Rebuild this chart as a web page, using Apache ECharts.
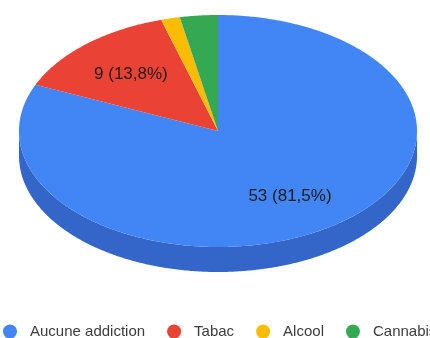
<!DOCTYPE html>
<html>
<head>
<meta charset="utf-8">
<script src="https://cdn.jsdelivr.net/npm/echarts@6/dist/echarts.min.js"></script>
<style>
  html, body { margin: 0; padding: 0; background: #ffffff; }
  #chart { width: 430px; height: 338px; }
</style>
</head>
<body>
<div id="chart"></div>
<script>
// Répartition des addictions déclarées
const categories = ['Aucune addiction', 'Tabac', 'Alcool', 'Cannabis'];
const counts = [53, 9, 1, 2];
const topColors = ['#4285F4', '#EA4335', '#FBBC04', '#34A853'];
const sideColors = ['#3466CA', '#B7332A', '#C99603', '#2A8643'];

// Ellipse geometry of the tilted pie
const CX = 218, CY = 131, RX = 199, RY = 116, DEPTH = 25;
const LABEL_R = 0.66;

const total = counts.reduce((a, b) => a + b, 0);
const starts = counts.map((_, i) => counts.slice(0, i).reduce((a, b) => a + b, 0));

function pt(a, dy, r) {
  r = r == null ? 1 : r;
  return [CX + RX * r * Math.sin(a), CY - RY * r * Math.cos(a) + dy];
}

function arc(a0, a1, dy) {
  const pts = [];
  const n = Math.max(2, Math.ceil((a1 - a0) / 0.01));
  for (let k = 0; k <= n; k++) pts.push(pt(a0 + (a1 - a0) * k / n, dy));
  return pts;
}

function fmt(v) {
  const pct = (v / total * 100).toFixed(1).replace('.', ',');
  return v + ' (' + pct + '%)';
}

function makeRender(idx) {
  return function (params, api) {
    const v = api.value(0), s = api.value(1), tot = api.value(2);
    const a0 = s / tot * Math.PI * 2;
    const a1 = (s + v) / tot * Math.PI * 2;
    const children = [];

    // front wall: only the part of the rim facing the viewer
    const f0 = Math.max(a0, Math.PI / 2), f1 = Math.min(a1, Math.PI * 1.5);
    if (f1 > f0) {
      const upper = arc(f0, f1, 0);
      const lower = arc(f0, f1, DEPTH).reverse();
      children.push({
        type: 'polygon',
        shape: { points: upper.concat(lower) },
        style: { fill: sideColors[idx] }
      });
    }

    // top face
    children.push({
      type: 'polygon',
      shape: { points: [[CX, CY]].concat(arc(a0, a1, 0)) },
      style: { fill: topColors[idx] }
    });

    if (v / tot >= 0.05) {
      const m = (a0 + a1) / 2;
      const p = pt(m, 0, LABEL_R);
      children.push({
        type: 'text',
        style: {
          text: fmt(v),
          x: p[0], y: p[1] + 1,
          align: 'center', verticalAlign: 'middle',
          fill: '#1e1e1e',
          font: '17px "Liberation Sans", Arial, sans-serif'
        }
      });
    }
    return { type: 'group', children: children };
  };
}

const chart = echarts.init(document.getElementById('chart'), null, { renderer: 'canvas' });

chart.setOption({
  animation: false,
  backgroundColor: '#ffffff',
  legend: {
    data: categories.map(n => ({ name: n, icon: 'circle' })),
    orient: 'horizontal',
    left: 3,
    top: 324,
    padding: 0,
    width: 800,
    itemWidth: 14,
    itemHeight: 14,
    itemGap: 22,
    selectedMode: false,
    textStyle: {
      fontFamily: '"Liberation Sans", Arial, sans-serif',
      fontSize: 15,
      color: '#3c3c3c',
      padding: [0, 0, 0, 8]
    }
  },
  series: categories.map((name, i) => ({
    type: 'custom',
    name: name,
    coordinateSystem: 'none',
    itemStyle: { color: topColors[i] },
    renderItem: makeRender(i),
    data: [[counts[i], starts[i], total]]
  }))
});
</script>
</body>
</html>
